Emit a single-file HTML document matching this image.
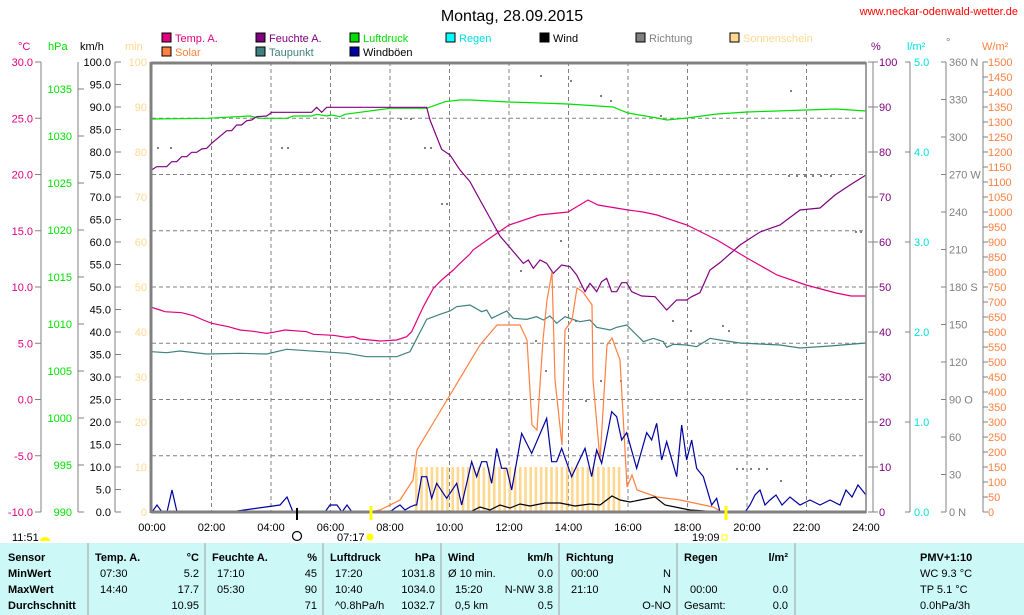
<!DOCTYPE html>
<html><head><meta charset="utf-8"><style>
body{margin:0;background:#fff;width:1024px;height:615px;overflow:hidden;font-family:"Liberation Sans",sans-serif}
svg{position:absolute;left:0;top:0}
text{font-family:"Liberation Sans",sans-serif;font-size:11px}
.b{font-weight:bold}
</style></head><body>
<svg id="s" width="1024" height="615" xmlns="http://www.w3.org/2000/svg">
<rect x="0" y="543" width="1024" height="72" fill="#ccf8f8"/>
<g id="g"></g>
<text x="512" y="21" text-anchor="middle" style="font-size:16px">Montag, 28.09.2015</text>
<text x="1018" y="15" text-anchor="end" fill="#ff0000" style="font-size:11px">www.neckar-odenwald-wetter.de</text>
<text x="18" y="50" fill="#e0007f">°C</text>
<text x="48" y="50" fill="#00e000">hPa</text>
<text x="80" y="50">km/h</text>
<text x="125" y="50" fill="#ffd890">min</text>
<text x="871" y="50" fill="#800080">%</text>
<text x="907" y="50" fill="#00e0e0">l/m²</text>
<text x="946" y="46" fill="#808080">°</text>
<text x="982" y="50" fill="#ff8040">W/m²</text>
</svg>
<script>
const NS="http://www.w3.org/2000/svg",g=document.getElementById('g');
function el(t,a,txt){const e=document.createElementNS(NS,t);for(const k in a)e.setAttribute(k,a[k]);if(txt!==undefined)e.textContent=txt;g.appendChild(e);return e;}
function line(x1,y1,x2,y2,c,w,d){el('line',{x1,y1,x2,y2,stroke:c,'stroke-width':w||1,'stroke-dasharray':d||''});}
function txt(x,y,s,c,anchor,cls){el('text',{x,y,fill:c||'#000','text-anchor':anchor||'start','class':cls||''},s);}
function poly(pts,c){el('polyline',{points:pts.map(p=>p.join(',')).join(' '),fill:'none',stroke:c,'stroke-width':1.2});}
const z1=a=>{const r=[];for(let i=0;i<a.length;i+=2)r.push([140+a[i]/3,90+a[i+1]/3]);return r;};
const z2=a=>{const r=[];for(let i=0;i<a.length;i+=2)r.push([380+a[i]/3,250+a[i+1]/3]);return r;};
const L=152,R=866,T=62,B=512;
// grid
for(let k=0;k<8;k++){const y=T+56.25*k;line(L,y,R,y,'#808080',1,'4,3');}
for(let h=2;h<24;h+=2){const x=L+h*29.75;line(x,T,x,B,'#808080',1,'4,3');}
// sunshine bars
for(let x=415;x<=622;x+=5.2)el('rect',{x:x,y:467,width:2.6,height:45,fill:'#ffd890'});
// left axes
line(41,62,41,512,'#808080');line(78,62,78,512,'#808080');line(115,62,115,512,'#808080');
for(let k=0;k<=8;k++){const y=T+56.25*k;line(35,y,41,y,'#808080');txt(33,y+4,(30-5*k).toFixed(1),'#e0007f','end');}
for(let p=990;p<=1035;p+=5){const y=512-(p-990)*9.4;line(78,y,84,y,'#808080');txt(72,y+4,p,'#00e000','end');}
for(let k=0;k<=20;k++){const y=T+22.5*k;line(115,y,121,y,'#808080');txt(111,y+4,(100-5*k).toFixed(1),'#000','end');}
for(let k=0;k<=10;k++){const y=T+45*k;txt(147,y+4,100-10*k,'#ffd890','end');}
// right axes
line(873,62,873,512,'#808080');line(910,62,910,512,'#808080');line(946,62,946,512,'#808080');line(983,62,983,512,'#808080');
for(let k=0;k<=10;k++){const y=T+45*k;line(868,y,878,y,'#808080');txt(879,y+4,100-10*k,'#800080');}
for(let k=0;k<=5;k++){const y=T+90*k;line(905,y,910,y,'#808080');txt(914,y+4,(5-k).toFixed(1),'#00e0e0');}
const dl={360:'360 N',270:'270 W',180:'180 S',90:'90 O',0:'0 N'};
for(let k=0;k<=12;k++){const y=T+37.5*k,v=360-30*k;line(941,y,946,y,'#808080');txt(949,y+4,dl[v]||v,'#808080');}
for(let k=0;k<=30;k++){const y=T+15*k;line(983,y,988,y,'#808080');txt(988,y+4,1500-50*k,'#ff8040');}
// richtung dots
[[157,147],[170,147],[281,147],[287,147],[424,147],[430,147],[441,203],[446,203],[400,118],[410,118],[520,270],[535,340],[545,370],[560,240],[575,320],[585,400],[600,380],[620,380],[600,95],[610,100],[660,115],[672,320],[690,330],[722,325],[728,330],[736,468],[742,468],[750,468],[758,468],[766,468],[780,480],[788,175],[796,175],[804,175],[812,175],[820,175],[830,175],[855,231],[860,231],[790,90],[540,75],[570,80]].forEach(p=>el('rect',{x:p[0],y:p[1],width:2,height:2,fill:'#808080'}));
// series
poly(z1([35,87,200,85,330,78,360,85,440,85,460,78,515,78,530,73,560,78,575,75,600,80,615,73,750,55,860,55,915,35,960,30,990,30]).concat([[490,101],[509,102],[540,103],[568,104],[598,106],[613,107],[628,113],[657,118],[667,120],[687,118],[717,114],[747,112],[806,110],[836,109],[866,111]]),'#00e000');
poly(z1([35,240,50,230,80,230,95,215,110,215,125,200,140,200,155,187,170,187,185,177,200,175,215,160,260,122,275,122,290,105,305,105,320,92,335,90,350,80,380,78,395,67,515,67,530,52,545,67,560,52,860,52,870,90,905,178,930,195,960,240,990,275]).concat([[480,200],[490,218],[500,236],[512,250]]).concat(z2([430,40,445,30,460,55,480,30,500,40,520,70,545,45,570,50,590,75,615,125,630,100,650,125,665,95,680,85,695,125,710,125,725,98,740,98,755,125,785,138,825,140,860,180,890,150,920,150,935,140,960,128,990,60,1020,38])).concat([[740,245],[760,232],[780,225],[800,210],[820,208],[835,195],[850,185],[866,175]]),'#800080');
poly(z1([35,652,60,660,75,665,125,668,160,677,190,690,215,700,265,710,300,720,340,724,380,730,400,727,435,720,500,725,520,733,580,736,620,742,640,740,660,747,720,753,770,750,800,740,815,725,850,650,880,595,905,570,940,540,960,520,990,492]).concat([[473,250],[490,238],[509,225],[539,215],[568,212],[588,200],[598,205],[628,210],[643,212],[657,215],[687,225],[717,240],[747,258],[777,275],[806,285],[836,293],[851,296],[866,296]]),'#e0007f');
poly(z1([35,785,80,788,120,783,200,792,300,790,380,792,440,778,500,782,620,790,680,800,770,800,810,785,860,688,900,673,930,663,950,650,990,645]).concat(z2([305,185,320,180,335,205,380,183,400,205,440,208,470,200,490,210,510,198,530,220,555,200,575,207,600,215,630,210,650,232,690,240,710,232,740,225,760,245,790,275,820,265,850,275,860,292,880,283,920,285,950,290,990,265,1020,270])).concat([[740,343],[780,345],[800,348],[830,346],[866,343]]),'#408080');
poly([[370,512],[380,510],[400,500],[413,480],[417,450],[447,400],[480,345],[497,325],[520,325],[527,340],[532,425],[537,430],[543,340],[547,300],[552,272],[555,380],[562,445],[565,330],[572,320],[577,288],[583,292],[592,305],[593,380],[600,460],[607,345],[612,338],[620,360],[625,450],[627,487],[632,475],[637,490],[657,497],[680,500],[713,507],[722,512]],'#ff8040');
// wind black
poly([[152,512],[470,512],[480,507],[490,510],[500,505],[510,508],[520,504],[530,506],[545,503],[560,503],[575,506],[590,504],[600,505],[612,496],[620,500],[630,502],[640,500],[655,497],[665,505],[680,508],[690,510],[720,512],[866,512]],'#000');
// windböen
poly([[152,512],[157,505],[162,512],[167,512],[172,490],[177,512],[230,512],[280,505],[287,497],[293,512],[325,512],[330,505],[337,505],[342,512],[347,505],[352,512],[390,512],[395,508],[400,505],[405,510],[410,507],[415,505]].concat(z2([110,765,125,680,140,680,155,745,170,700,200,745,230,700,245,765,275,635,290,680,305,635,320,635,335,700,350,595,365,655,380,655,395,720,425,550,455,610,500,505,515,635,530,635,545,595,575,680,615,595,635,680,650,600,665,640,695,485,710,500,725,570,740,548,770,655,800,548,815,570,830,520,845,630,860,575,890,680,905,525,920,630,935,570,950,655,970,680,995,765,1010,745])).concat([[720,512],[745,512],[750,505],[755,495],[760,490],[765,505],[770,500],[776,495],[782,505],[790,497],[800,505],[810,500],[820,505],[830,500],[840,505],[846,490],[852,497],[858,485],[866,495]]),'#0000a0');
// frame
line(151,62,151,513,'#808080',3);line(151,63,866,63,'#808080',3);line(866,62,866,513,'#808080',1.5);line(151,512,866,512,'#808080',3);
line(297,508,297,520,'#000',2);line(371,506,371,520,'#ffff00',3);line(726,506,726,520,'#ffff00',3);
// time labels
for(let h=0;h<=24;h+=2)txt(L+h*29.75,531,(h<10?'0':'')+h+':00','#000','middle');
txt(12,541,'11:51');el('path',{d:'M40,541 a5,4 0 0 1 10,0 z',fill:'#ffff00'});
el('circle',{cx:297,cy:536,r:4.5,fill:'none',stroke:'#000','stroke-width':1.2});
txt(337,541,'07:17');el('circle',{cx:370,cy:537,r:3.5,fill:'#ffff00'});
txt(692,541,'19:09');el('rect',{x:722,y:535,width:5,height:5,fill:'none',stroke:'#ffff00'});
// legend
const lg=[[162,38,'#e0007f','Temp. A.','#e0007f'],[256,38,'#800080','Feuchte A.','#800080'],[350,38,'#00e000','Luftdruck','#00e000'],[446,38,'#00ffff','Regen','#00e0e0'],[540,38,'#000','Wind','#000'],[636,38,'#808080','Richtung','#808080'],[730,38,'#ffd890','Sonnenschein','#ffd890'],[162,52,'#ff8040','Solar','#ff8040'],[256,52,'#408080','Taupunkt','#408080'],[350,52,'#0000a0','Windböen','#000']];
lg.forEach(l=>{el('rect',{x:l[0],y:l[1]-5,width:9,height:9,fill:l[2],stroke:'#000','stroke-width':1});txt(l[0]+13,l[1]+4,l[3],l[4]);});
// table
[88,205,323,441,559,677,795].forEach(x=>line(x,543,x,615,'#a0a0a0',1));
const rows=[557,573,589,605];
['Sensor','MinWert','MaxWert','Durchschnitt'].forEach((s,i)=>txt(8,rows[i]+4,s,'#000','start','b'));
function col(x0,x1,hdr,unit,a,b){txt(x0+7,rows[0]+4,hdr,'#000','start','b');txt(x1-6,rows[0]+4,unit,'#000','end','b');for(let i=0;i<3;i++){if(a[i])txt(x0+12,rows[i+1]+4,a[i]);if(b[i])txt(x1-6,rows[i+1]+4,b[i],'#000','end');}}
col(88,205,'Temp. A.','°C',['07:30','14:40',''],['5.2','17.7','10.95']);
col(205,323,'Feuchte A.','%',['17:10','05:30',''],['45','90','71']);
col(323,441,'Luftdruck','hPa',['17:20','10:40','^0.8hPa/h'],['1031.8','1034.0','1032.7']);
txt(448,rows[0]+4,'Wind','#000','start','b');txt(553,rows[0]+4,'km/h','#000','end','b');
txt(448,rows[1]+4,'Ø 10 min.');txt(455,rows[2]+4,'15:20');txt(455,rows[3]+4,'0,5 km');
txt(553,rows[1]+4,'0.0','#000','end');txt(553,rows[2]+4,'N-NW 3.8','#000','end');txt(553,rows[3]+4,'0.5','#000','end');
col(559,677,'Richtung','',['00:00','21:10',''],['N','N','O-NO']);
txt(684,rows[0]+4,'Regen','#000','start','b');txt(788,rows[0]+4,'l/m²','#000','end','b');
txt(690,rows[2]+4,'00:00');txt(684,rows[3]+4,'Gesamt:');txt(788,rows[2]+4,'0.0','#000','end');txt(788,rows[3]+4,'0.0','#000','end');
txt(920,rows[0]+4,'PMV+1:10','#000','start','b');txt(920,rows[1]+4,'WC 9.3 °C');txt(920,rows[2]+4,'TP 5.1 °C');txt(920,rows[3]+4,'0.0hPa/3h');
</script>
</body></html>
